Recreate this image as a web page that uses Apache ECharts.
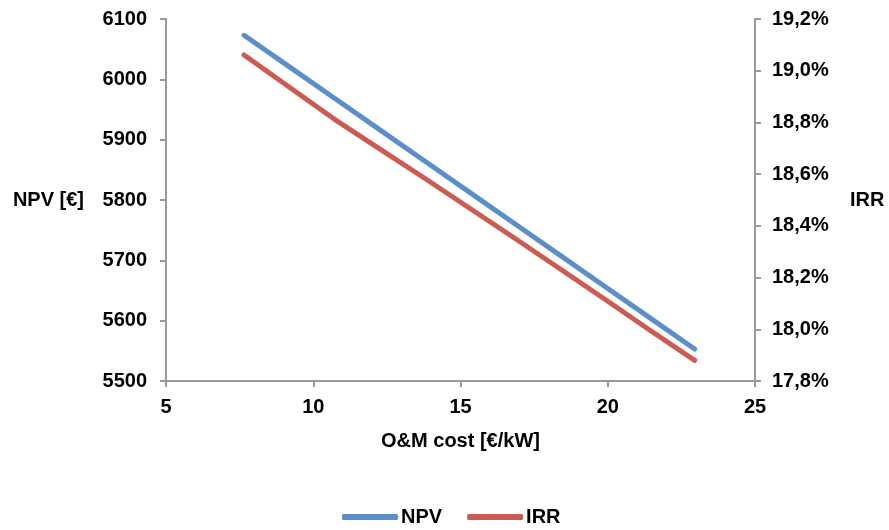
<!DOCTYPE html>
<html>
<head>
<meta charset="utf-8">
<script src="https://cdn.jsdelivr.net/npm/echarts@6/dist/echarts.min.js"></script>
<style>
html,body{margin:0;padding:0;background:#fff;}
#chart{width:889px;height:530px;}
</style>
</head>
<body>
<div id="chart"></div>
<script>
// O&M cost [€/kW]
var omCost = [7.65, 9.18, 10.71, 12.24, 13.77, 15.30, 16.83, 18.36, 19.89, 21.42, 22.95];
// NPV [€]
var npvValues = [6073, 6021, 5969, 5917, 5865, 5813, 5761, 5709, 5657, 5605, 5553];
// IRR [%]
var irrValues = [19.061, 18.937, 18.813, 18.699, 18.585, 18.469, 18.353, 18.235, 18.117, 17.997, 17.880];
var seriesNames = ['NPV', 'IRR'];

var FONT = 'Liberation Sans, Arial, sans-serif';
var FS = 20;
var axisColor = '#9a9a9a';

function pairs(xs, ys) {
  return xs.map(function (x, i) { return [x, ys[i]]; });
}

var chart = echarts.init(document.getElementById('chart'));
chart.setOption({
  animation: false,
  backgroundColor: '#ffffff',
  grid: { left: 166, right: 134, top: 19, bottom: 149, containLabel: false },
  legend: {
    bottom: -2,
    left: 337,
    itemWidth: 56,
    itemHeight: 6,
    itemGap: 25,
    icon: 'roundRect',
    textStyle: { fontFamily: FONT, fontWeight: 'bold', fontSize: FS, color: '#000', padding: [0, 0, 0, -2] },
    data: seriesNames
  },
  xAxis: {
    type: 'value',
    min: 5, max: 25, interval: 5,
    name: 'O&M cost [€/kW]',
    nameLocation: 'middle',
    nameGap: 50,
    nameTextStyle: { fontFamily: FONT, fontWeight: 'bold', fontSize: FS, color: '#000' },
    axisLine: { show: true, onZero: false, lineStyle: { color: axisColor, width: 2 } },
    axisTick: { show: true, length: 6, lineStyle: { color: axisColor, width: 2 } },
    axisLabel: { margin: 16, fontFamily: FONT, fontWeight: 'bold', fontSize: FS, color: '#000' },
    splitLine: { show: false }
  },
  yAxis: [
    {
      type: 'value',
      position: 'left',
      min: 5500, max: 6100, interval: 100,
      name: 'NPV [€]',
      nameLocation: 'middle',
      nameRotate: 0,
      nameGap: 82,
      nameTextStyle: { fontFamily: FONT, fontWeight: 'bold', fontSize: FS, color: '#000' },
      axisLine: { show: true, lineStyle: { color: axisColor, width: 2 } },
      axisTick: { show: true, length: 6, lineStyle: { color: axisColor, width: 2 } },
      axisLabel: {
        margin: 19, fontFamily: FONT, fontWeight: 'bold', fontSize: FS, color: '#000',
        formatter: function (v) { return String(Math.round(v)); }
      },
      splitLine: { show: false }
    },
    {
      type: 'value',
      position: 'right',
      min: 17.8, max: 19.2, interval: 0.2,
      name: 'IRR',
      nameLocation: 'middle',
      nameRotate: 0,
      nameGap: 95,
      nameTextStyle: { fontFamily: FONT, fontWeight: 'bold', fontSize: FS, color: '#000' },
      axisLine: { show: true, lineStyle: { color: axisColor, width: 2 } },
      axisTick: { show: true, length: 6, lineStyle: { color: axisColor, width: 2 } },
      axisLabel: {
        margin: 17, fontFamily: FONT, fontWeight: 'bold', fontSize: FS, color: '#000',
        formatter: function (v) { return v.toFixed(1).replace('.', ',') + '%'; }
      },
      splitLine: { show: false }
    }
  ],
  series: [
    {
      name: seriesNames[0],
      type: 'line',
      yAxisIndex: 0,
      data: pairs(omCost, npvValues),
      symbol: 'none',
      itemStyle: { color: '#5B8FCA' },
      lineStyle: { color: '#5B8FCA', width: 5, cap: 'round', join: 'round' },
      z: 3
    },
    {
      name: seriesNames[1],
      type: 'line',
      yAxisIndex: 1,
      data: pairs(omCost, irrValues),
      symbol: 'none',
      itemStyle: { color: '#CD5B52' },
      lineStyle: { color: '#CD5B52', width: 5, cap: 'round', join: 'round' },
      z: 2
    }
  ]
});
</script>
</body>
</html>
